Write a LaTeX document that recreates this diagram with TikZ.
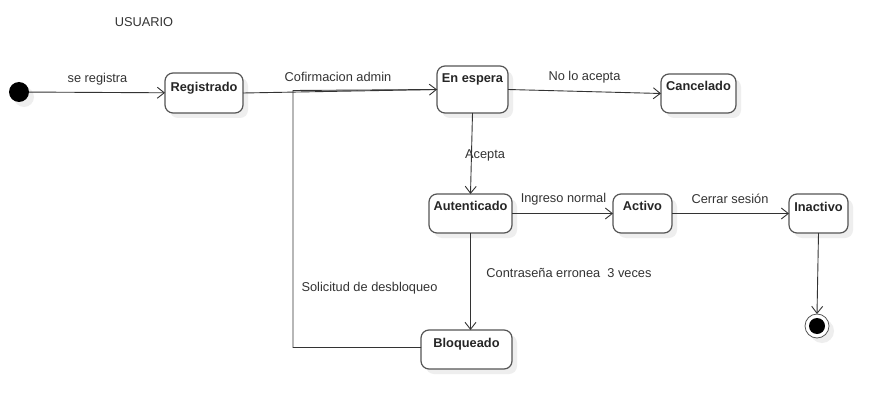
\documentclass[tikz,border=0pt]{standalone}
\usepackage{fontspec}
\setmainfont{Liberation Sans}
\usetikzlibrary{arrows.meta,shadows}
\definecolor{lineC}{HTML}{333333}
\definecolor{boxC}{HTML}{555555}
\definecolor{txtC}{HTML}{333333}
\definecolor{shadC}{HTML}{EEEEEE}
\begin{document}
\begin{tikzpicture}[x=1pt,y=-1pt,
  every node/.style={inner sep=0pt, outer sep=0pt},
  myshadow/.style={drop shadow={shadow xshift=5pt, shadow yshift=-5pt, fill=shadC, opacity=1}},
  stbox/.style={draw=boxC, line width=1.2pt, rounded corners=8pt, fill=white, myshadow},
  sttext/.style={anchor=base, font=\fontsize{12.8}{15}\selectfont\bfseries, text=black!85},
  lbl/.style={font=\fontsize{12.8}{15}\selectfont, text=txtC},
  conn/.style={draw=lineC, line width=0.9pt},
  arr/.style={conn, -{Straight Barb[length=7pt, width=11pt, line width=0.9pt]}},
]
\fill[white] (0,0) rectangle (888,409);
\useasboundingbox (0,0) rectangle (888,409);

% title
\node[lbl] (title) at (144,22) {USUARIO};

% pseudo states
\node[circle, fill=black, minimum size=20pt, myshadow] (init) at (19,92) {};
\node[circle, draw=boxC, fill=white, line width=0.8pt, minimum size=24pt, myshadow] (fin) at (817,326) {};
\node[circle, fill=black, minimum size=16pt] (findot) at (fin) {};

% states
\node[stbox, minimum width=78pt, minimum height=40pt] (reg) at (204,93) {};
\node[sttext] (regt) at ([yshift=-18.5pt]reg.north) {Registrado};
\node[stbox, minimum width=71pt, minimum height=47pt] (esp) at (472.5,89.5) {};
\node[sttext] (espt) at ([yshift=-16.5pt]esp.north) {En espera};
\node[stbox, minimum width=75pt, minimum height=39pt] (can) at (698.5,93.5) {};
\node[sttext] (cant) at ([yshift=-16.5pt]can.north) {Cancelado};
\node[stbox, minimum width=83pt, minimum height=39pt] (aut) at (470.5,213.5) {};
\node[sttext] (autt) at ([yshift=-16.5pt]aut.north) {Autenticado};
\node[stbox, minimum width=59pt, minimum height=39pt] (act) at (642.5,213.5) {};
\node[sttext] (actt) at ([yshift=-16.5pt]act.north) {Activo};
\node[stbox, minimum width=59pt, minimum height=39pt] (ina) at (818.5,213.5) {};
\node[sttext] (inat) at ([yshift=-17.5pt]ina.north) {Inactivo};
\node[stbox, minimum width=91pt, minimum height=39pt] (blo) at (466.5,349.5) {};
\node[sttext] (blot) at ([yshift=-17.5pt]blo.north) {Bloqueado};

% connectors
\coordinate (c1) at (293,347.5);
\coordinate (c2) at (293,90.5);
\draw[conn] ([yshift=2pt]blo.west) -- (c1) -- (c2) -- (esp.west);
\draw[arr] (init) -- (reg);
\draw[arr] (reg.east) -- (esp.west);
\draw[arr] (esp.east) -- (can.west);
\draw[arr] (esp.south) -- (aut.north);
\draw[arr] (aut.east) -- (act.west);
\draw[arr] (act.east) -- (ina.west);
\draw[arr] (aut.south) -- (aut.south |- blo.north);
\draw[arr] (ina.south) -- (fin.north);

% labels
\node[lbl] (l1) at (97.5,79) {se registra};
\node[lbl] (l2) at (338,77) {Cofirmacion admin};
\node[lbl] (l3) at (584.5,77) {No lo acepta};
\node[lbl] (l4) at (485,155) {Acepta};
\node[lbl] (l5) at (563.5,199) {Ingreso normal};
\node[lbl] (l6) at (730,199) {Cerrar sesión};
\node[lbl] (l7) at (569,273) {Contraseña erronea\ \ 3 veces};
\node[lbl] (l8) at (369.5,288) {Solicitud de desbloqueo};
\end{tikzpicture}
\end{document}
